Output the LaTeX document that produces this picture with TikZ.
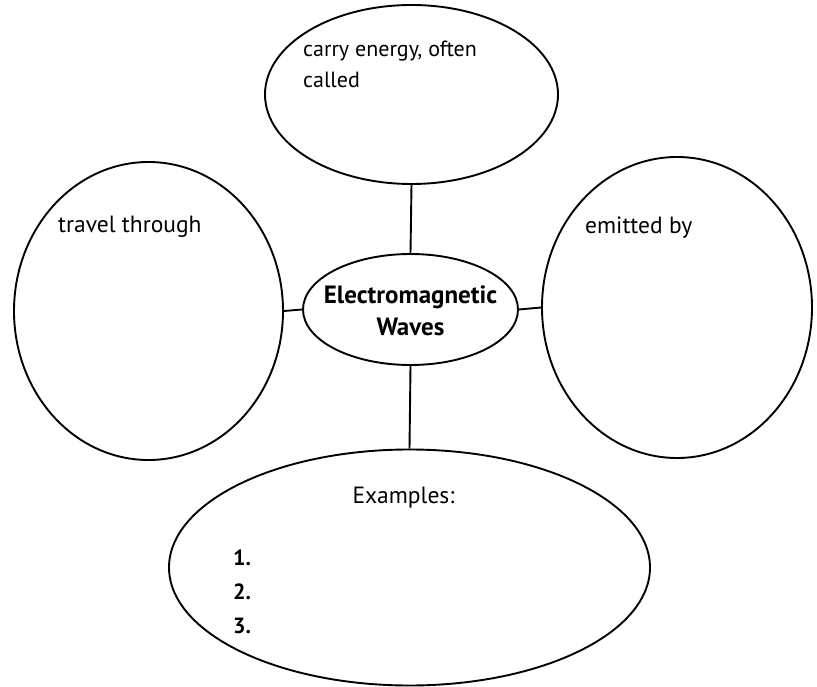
\documentclass[tikz,border=0pt]{standalone}
\usepackage{fontspec}
\setmainfont{PT Sans}
\usetikzlibrary{shapes.geometric}
\begin{document}
\begin{tikzpicture}[x=1pt,y=-1pt,
  oval/.style={draw=black, line width=1.9pt, ellipse, inner sep=0pt},
  link/.style={draw=black, line width=1.9pt},
  txt/.style={inner sep=0pt, font=\fontsize{23.5}{31}\selectfont, align=left},
  toptxt/.style={inner sep=0pt, font=\fontsize{22}{31}\selectfont, align=left},
  hubtxt/.style={inner sep=0pt, font=\fontsize{25}{32}\selectfont\bfseries, align=center},
  numtxt/.style={inner sep=0pt, font=\fontsize{22}{34}\selectfont\bfseries, align=left}]
\useasboundingbox (0,0) rectangle (817,687);
\node[oval, minimum width=293pt, minimum height=179pt] (top) at (411.5,94.5) {};
\node[oval, minimum width=269pt, minimum height=298pt] (left) at (148.5,311) {};
\node[oval, minimum width=270pt, minimum height=301pt] (right) at (677,307.5) {};
\node[oval, minimum width=215pt, minimum height=111pt] (hub) at (410.5,309.5) {};
\node[oval, minimum width=481pt, minimum height=236pt] (bottom) at (409.5,567.5) {};
\draw[link] (top.south) -- (hub.north);
\draw[link] (left.east) -- (hub.west);
\draw[link] (hub.east) -- (right.west);
\draw[link] (hub.south) -- (bottom.north);
\node[toptxt, anchor=north west] (toptext) at (303,41) {carry energy, often\\called};
\node[txt, anchor=base west] (lefttext) at (58,233) {travel through};
\node[txt, anchor=base west] (righttext) at (585,234) {emitted by};
\node[hubtxt, anchor=north] (hubtext) at (410.5,286) {Electromagnetic\\Waves};
\node[txt, anchor=base] (extext) at (403.5,503) {Examples:};
\node[numtxt, anchor=north west] (nums) at (233,549.5) {1.\\2.\\3.};
\end{tikzpicture}
\end{document}
